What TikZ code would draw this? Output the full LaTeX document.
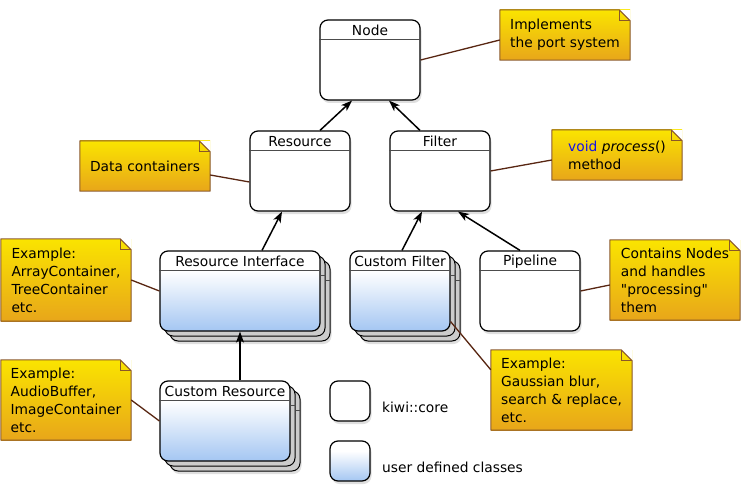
\documentclass[tikz,border=0pt]{standalone}
\usepackage{fontspec}
\setmainfont{DejaVu Sans}
\usetikzlibrary{arrows.meta,shadows}

\definecolor{notetop}{RGB}{250,228,0}
\definecolor{notebot}{RGB}{232,166,26}
\definecolor{noteedge}{RGB}{138,88,40}
\definecolor{notelink}{RGB}{88,38,18}
\definecolor{userblue}{RGB}{164,198,242}
\definecolor{voidblue}{RGB}{20,20,230}

\pgfdeclareverticalshading{userfill}{100bp}{color(0bp)=(userblue); color(25bp)=(userblue); color(62.5bp)=(white); color(100bp)=(white)}

\tikzset{
  cls/.style={draw, line width=1.2pt, rounded corners=8pt, fill=white, inner sep=0pt,
    drop shadow={shadow xshift=1.5pt, shadow yshift=-3pt, opacity=0.25}},
  usercls/.style={draw, line width=1.2pt, rounded corners=8pt, inner sep=0pt, shade, shading=userfill,
    drop shadow={shadow xshift=11.5pt, shadow yshift=-13pt, opacity=0.25},
    double copy shadow={shadow xshift=5pt, shadow yshift=-5pt, fill=gray!40, draw=black, line width=1pt}},
  legbox/.style={draw, line width=1.2pt, rounded corners=8pt, inner sep=0pt, minimum size=40pt,
    drop shadow={shadow xshift=1.5pt, shadow yshift=-3pt, opacity=0.25}},
  title/.style={inner sep=0pt},
  hline/.style={draw=black!70, line width=1pt},
  inh/.style={-{Stealth[length=11pt,width=8pt,inset=3pt]}, line width=1.5pt},
  note/.style={top color=notetop, bottom color=notebot, minimum width=130pt, minimum height=50pt,
    align=left, inner sep=0pt},
  link/.style={notelink, line width=1.3pt}
}

\newcommand{\notefold}[1]{%
  \fill[white] ([xshift=-11pt]#1.north east) -- (#1.north east) -- ([yshift=-11pt]#1.north east) -- cycle;
  \draw[noteedge, line width=1pt, line join=round] (#1.north west) -- ([xshift=-11pt]#1.north east)
    -- ([yshift=-11pt]#1.north east) -- (#1.south east) -- (#1.south west) -- cycle;
  \draw[noteedge, line width=1pt] ([xshift=-11pt]#1.north east) |- ([yshift=-11pt]#1.north east);}
\newcommand{\dquote}{\XeTeXglyph\XeTeXcharglyph"22\relax}

\begin{document}
\begin{tikzpicture}[x=1pt, y=-1pt, font=\fontsize{13.8}{18}\selectfont]
\useasboundingbox (0,0) rectangle (742,492);

% classes
\node[cls, minimum width=100pt, minimum height=80pt] (cnode) at (370,60) {};
\node[cls, minimum width=100pt, minimum height=80pt] (cres) at (300,171) {};
\node[cls, minimum width=100pt, minimum height=80pt] (cfilter) at (440,171) {};
\node[usercls, minimum width=160pt, minimum height=80pt] (cresif) at (240,291) {};
\node[usercls, minimum width=100pt, minimum height=80pt] (ccfilter) at (400,291) {};
\node[cls, minimum width=100pt, minimum height=80pt] (cpipe) at (530,291) {};
\node[usercls, minimum width=130pt, minimum height=80pt] (ccres) at (225,421) {};

\foreach \s/\t in {cnode/Node, cres/Resource, cfilter/Filter, cresif/Resource Interface,
                   ccfilter/Custom Filter, cpipe/Pipeline, ccres/Custom Resource} {
  \node[title] (\s-t) at ([yshift=-11pt]\s.north) {\t};
  \draw[hline] ([yshift=-20pt]\s.north west) -- ([yshift=-20pt]\s.north east);
}
\foreach \s in {cresif, ccfilter, ccres}
  \foreach \d in {5,10}
    \draw[hline] ([xshift=\d pt-5pt, yshift=-20pt-\d pt]\s.north east) -- ([xshift=\d pt, yshift=-20pt-\d pt]\s.north east);

% inheritance
\draw[inh] ([xshift=20pt]cres.north) -- ([xshift=-18pt]cnode.south);
\draw[inh] ([xshift=-20pt]cfilter.north) -- ([xshift=19pt]cnode.south);
\draw[inh] ([xshift=22pt]cresif.north) -- ([xshift=-18pt]cres.south);
\draw[inh] ([xshift=2pt]ccfilter.north) -- ([xshift=-18pt]cfilter.south);
\draw[inh] ([xshift=-10pt]cpipe.north) -- ([xshift=18pt]cfilter.south);
\draw[inh] ([xshift=15pt]ccres.north) -- (cresif.south);

% notes
\node[note] (nport) at (565,35) {Implements\\the port system};
\node[note] (ndata) at (145,166) {Data containers};
\node[note] (nproc) at (617,155) {{\color{voidblue}void} \textit{process}()\\method};
\node[note, minimum height=82pt] (narray) at (66,280) {Example:\\ArrayContainer,\\TreeContainer\\etc.};
\node[note, minimum height=80pt] (npipe) at (675,280) {Contains Nodes\\and handles\\\dquote processing\dquote\\them};
\node[note, minimum width=141pt, minimum height=80pt] (ngauss) at (561.5,390) {Example:\\Gaussian blur,\\search \& replace,\\etc.};
\node[note, minimum height=80pt] (naudio) at (66,400) {Example:\\AudioBuffer,\\ImageContainer\\etc.};
\foreach \n in {nport, ndata, nproc, narray, npipe, ngauss, naudio}
  \notefold{\n};

\draw[link] ([yshift=-5pt]nport.west) -- (cnode.east);
\draw[link] ([yshift=-9pt]ndata.east) -- ([yshift=-11pt]cres.west);
\draw[link] ([yshift=-5pt]nproc.west) -- (cfilter.east);
\draw[link] (narray.east) -- (cresif.west);
\draw[link] ([yshift=-5pt]npipe.west) -- (cpipe.east);
\draw[link] ([yshift=10pt]ccfilter.south east) -- ([yshift=-20pt]ngauss.north west);
\draw[link] (naudio.east) -- (ccres.west);

% legend
\node[legbox, fill=white] (lcore) at (350,401) {};
\node[legbox, shade, shading=userfill] (luser) at (350,461) {};
\node[anchor=base west] (lcore-t) at ([shift={(8pt,-11pt)}]lcore.east) {kiwi::core};
\node[anchor=base west] (luser-t) at ([shift={(8pt,-11pt)}]luser.east) {user defined classes};
\end{tikzpicture}
\end{document}
